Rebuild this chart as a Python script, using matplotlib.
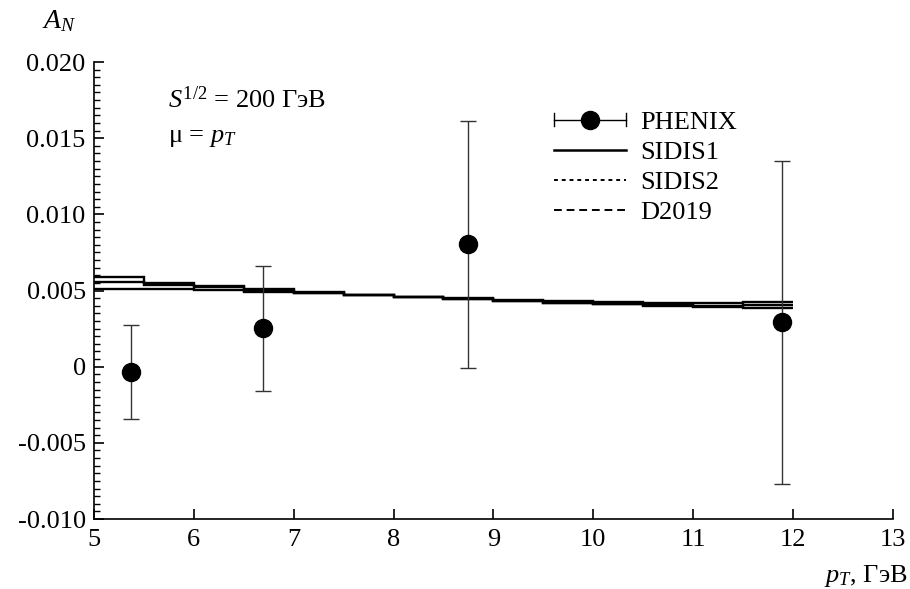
import numpy as np
import matplotlib
matplotlib.use("Agg")
import matplotlib.pyplot as plt
from matplotlib.lines import Line2D
from matplotlib.ticker import MultipleLocator
from matplotlib.legend_handler import HandlerBase

plt.rcParams['font.family'] = ['Liberation Serif', 'DejaVu Serif']
plt.rcParams['mathtext.fontset'] = 'custom'
plt.rcParams['mathtext.rm'] = 'Liberation Serif'
plt.rcParams['mathtext.it'] = 'Liberation Serif:italic'
plt.rcParams['mathtext.bf'] = 'Liberation Serif:bold'

# PHENIX data
phenix_x = [5.37, 6.69, 8.75, 11.89]
phenix_y = [-0.00035, 0.00252, 0.00803, 0.00291]
phenix_err = [0.0031, 0.0041, 0.0081, 0.0106]

# theory step curves (bins of 0.5 GeV from 5 to 12)
bin_edges = [5.0, 5.5, 6.0, 6.5, 7.0, 7.5, 8.0, 8.5, 9.0, 9.5, 10.0, 10.5, 11.0, 11.5, 12.0]
sidis1 = [0.00586, 0.00551, 0.00530, 0.00508, 0.00490, 0.00473, 0.00458, 0.00445,
          0.00432, 0.00421, 0.00410, 0.00400, 0.00392, 0.00384]
sidis2 = [0.00559, 0.00533, 0.00520, 0.00500, 0.00484, 0.00470, 0.00457, 0.00444,
          0.00432, 0.00421, 0.00412, 0.00405, 0.00400, 0.00402]
d2019 = [0.00513, 0.00511, 0.00502, 0.00492, 0.00482, 0.00471, 0.00460, 0.00450,
         0.00441, 0.00433, 0.00426, 0.00421, 0.00420, 0.00426]

y_ticks = [-0.010, -0.005, 0, 0.005, 0.010, 0.015, 0.020]
y_ticklabels = ['-0.010', '-0.005', '0', '0.005', '0.010', '0.015', '0.020']


class HandlerHBar(HandlerBase):
    def create_artists(self, legend, orig_handle, xdescent, ydescent,
                       width, height, fontsize, trans):
        y = height / 2.0 - ydescent
        x0, x1 = -xdescent, -xdescent + width
        cap = height * 0.35
        artists = [
            Line2D([x0, x1], [y, y], color='black', lw=1.0),
            Line2D([x0, x0], [y - cap, y + cap], color='black', lw=1.0),
            Line2D([x1, x1], [y - cap, y + cap], color='black', lw=1.0),
            Line2D([(x0 + x1) / 2], [y], marker='o', ms=13, color='black', ls='none'),
        ]
        for a in artists:
            a.set_transform(trans)
        return artists


fig = plt.figure(figsize=(9.10, 5.89), dpi=100)
ax = fig.add_axes([0.1033, 0.1188, 0.8777, 0.7759])

ax.stairs(sidis1, bin_edges, color='black', lw=1.7, baseline=None)
ax.stairs(sidis2, bin_edges, color='black', lw=1.7, baseline=None)
ax.stairs(d2019, bin_edges, color='black', lw=1.7, baseline=None)

ax.errorbar(phenix_x, phenix_y, yerr=phenix_err, fmt='o', color='black',
            ms=13, elinewidth=1.0, capsize=6, capthick=1.0, ecolor='#333333')

ax.set_xlim(5, 13)
ax.set_ylim(-0.010, 0.020)
ax.xaxis.set_major_locator(MultipleLocator(1))
ax.yaxis.set_minor_locator(MultipleLocator(0.0005))
ax.set_yticks(y_ticks)
ax.set_yticklabels(y_ticklabels)
ax.tick_params(which='both', direction='in', labelsize=19)
ax.tick_params(which='major', length=7, width=1.2)
ax.tick_params(which='minor', length=4, width=1.0)
ax.tick_params(axis='x', pad=7)
ax.tick_params(axis='y', pad=6)
for s in ['top', 'right']:
    ax.spines[s].set_visible(False)
for s in ['left', 'bottom']:
    ax.spines[s].set_linewidth(1.2)

fig.text(0.046, 0.952, r'$A_N$', fontsize=20)
fig.text(0.997, 0.012, r'$p_T$, ГэВ', fontsize=19, ha='right')

ax.text(0.093, 0.917, r'$S^{1/2}$ = 200 ГэВ', transform=ax.transAxes,
        fontsize=19, va='center')
ax.text(0.093, 0.834, r'μ = $p_T$', transform=ax.transAxes, fontsize=19,
        va='center')

proxy = Line2D([], [], color='black', marker='o')
handles = [proxy,
           Line2D([], [], color='black', lw=1.8),
           Line2D([], [], color='black', lw=1.4, ls=(0, (2, 2))),
           Line2D([], [], color='black', lw=1.4, ls=(0, (4, 2.5)))]
labels = ['PHENIX', 'SIDIS1', 'SIDIS2', 'D2019']
leg = ax.legend(handles, labels, loc='upper left', bbox_to_anchor=(0.56, 0.923),
                frameon=False, fontsize=19, handlelength=2.7, labelspacing=0.25,
                handletextpad=0.55, borderpad=0,
                handler_map={proxy: HandlerHBar()})

fig.savefig('out.png', dpi=100)
